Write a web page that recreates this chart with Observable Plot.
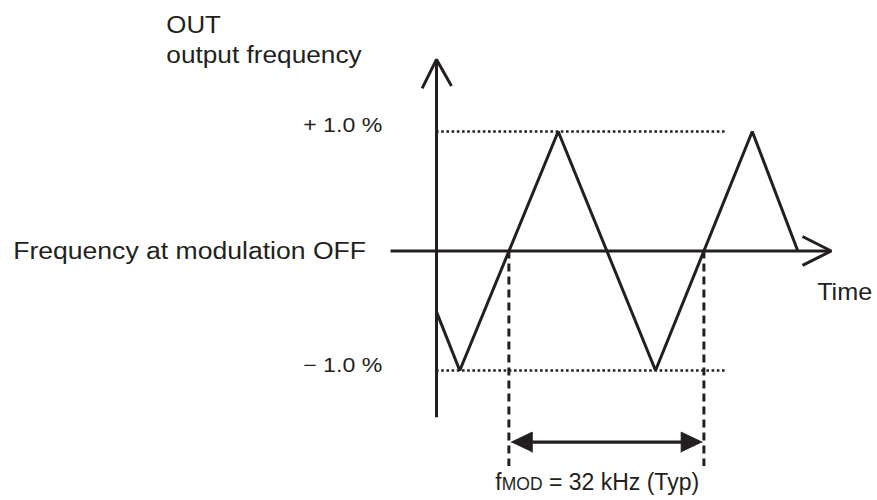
<!DOCTYPE html>
<html><head><meta charset="utf-8">
<script src="https://cdn.jsdelivr.net/npm/d3@7"></script>
<script src="https://cdn.jsdelivr.net/npm/@observablehq/plot@0.6"></script>
<style>body{margin:0;background:#fff} svg{display:block;font-family:"Liberation Sans",Arial,sans-serif}</style>
</head><body><div id="chart"></div>
<script>
// time in µs (fMOD = 32 kHz -> period 31.25 µs), value in % deviation
const waveT = [0, 3.73, 19.5, 35.1, 50.6, 57.9];
const waveV = [-0.51, -1, 1, -1, 1, 0];
const levels = [1, -1];
const levelLabels = ["+ 1.0 %", "\u2212 1.0 %"];
const levelEnd = 46.5;
const crossings = [11.6, 42.85];
const dashBottom = -1.803;
const spanV = -1.6;
const spanTips = [11.97, 42.58];
const spanLabel = "fMOD = 32 kHz (Typ)";
const yAxisRange = [-1.391, 1.603];
const xAxisRange = [-7.37, 63.25];
const titleLines = ["OUT", "output frequency"];
const offLabel = "Frequency at modulation OFF";
const timeLabel = "Time";

const INK = "#231f20";
const wave = waveT.map((t, i) => ({t, v: waveV[i]}));

// arrow heads
const yHead = [{t:-2.3, v:yAxisRange[1]-0.243},{t:0, v:yAxisRange[1]},{t:2.4, v:yAxisRange[1]-0.223}];
const xHead = [{t:xAxisRange[1]-4.6, v:0.121},{t:xAxisRange[1], v:0},{t:xAxisRange[1]-4.6, v:-0.121}];
const hl = 3.37, hw = 0.084;
const spanHeads = [
  {id:"L", t:spanTips[0], v:spanV},{id:"L", t:spanTips[0]+hl, v:spanV+hw},{id:"L", t:spanTips[0]+hl, v:spanV-hw},
  {id:"R", t:spanTips[1], v:spanV},{id:"R", t:spanTips[1]-hl, v:spanV+hw},{id:"R", t:spanTips[1]-hl, v:spanV-hw}
];

const texts = [
  {t:-43.3, v:1.826, s:titleLines[0], a:"start", f:23.5, k:1.1},
  {t:-43.3, v:1.572, s:titleLines[1], a:"start", f:23, k:1.14},
  {t:-8.70, v:0.994, s:levelLabels[0], a:"end", f:20, k:1.155},
  {t:-8.70, v:-1.014, s:levelLabels[1], a:"end", f:20, k:1.155},
  {t:-67.84, v:-0.065, s:offLabel, a:"start", f:23, k:1.155},
  {t:61.0, v:-0.414, s:timeLabel, a:"start", f:24, k:1.05},
  {t:25.75, v:-2.004, s:spanLabel, a:"middle", f:23, k:1}
];
const stretch = new Map(texts.map(d => [d.s, d.k]));

const svg = Plot.plot({
  width: 877, height: 500,
  marginLeft: 0, marginRight: 0, marginTop: 0, marginBottom: 0,
  x: {domain: [-69.87, 70.67], axis: null},
  y: {domain: [-2.088, 2.096], axis: null},
  style: {color: INK, background: "#fff"},
  marks: [
    Plot.ruleY(levels, {y: d => d, x1: 0, x2: levelEnd, stroke: INK, strokeWidth: 2.6, strokeDasharray: "2.6,2.6"}),
    Plot.ruleX(crossings, {x: d => d, y1: 0, y2: dashBottom, stroke: INK, strokeWidth: 3, strokeDasharray: "8,5"}),
    Plot.line([{t:0, v:yAxisRange[0]},{t:0, v:yAxisRange[1]}], {x:"t", y:"v", stroke: INK, strokeWidth: 3, strokeLinecap:"butt"}),
    Plot.line(yHead, {x:"t", y:"v", stroke: INK, strokeWidth: 3, strokeLinecap:"butt", strokeLinejoin:"miter"}),
    Plot.line([{t:xAxisRange[0], v:0},{t:xAxisRange[1], v:0}], {x:"t", y:"v", stroke: INK, strokeWidth: 3, strokeLinecap:"butt"}),
    Plot.line(xHead, {x:"t", y:"v", stroke: INK, strokeWidth: 3, strokeLinecap:"butt", strokeLinejoin:"miter"}),
    Plot.line(wave, {x:"t", y:"v", stroke: INK, strokeWidth: 3, strokeLinejoin:"miter", strokeLinecap:"butt"}),
    Plot.line([{t:spanTips[0]+hl-0.5, v:spanV},{t:spanTips[1]-hl+0.5, v:spanV}], {x:"t", y:"v", stroke: INK, strokeWidth: 3.2, strokeLinecap:"butt"}),
    Plot.line(spanHeads, {x:"t", y:"v", z:"id", stroke: INK, fill: INK, strokeWidth: 1, strokeLinejoin:"miter"}),
    ...texts.map(d => Plot.text([d], {x:"t", y:"v", text:"s", textAnchor: d.a, lineAnchor:"bottom", fontSize: d.f, fill: INK}))
  ]
});
document.getElementById("chart").append(svg);

d3.select(svg).selectAll("text").each(function(){
  const k = stretch.get(this.textContent) ?? 1;
  if (this.textContent === spanLabel) {
    const s = d3.select(this);
    s.text(null);
    s.append("tspan").text("f");
    s.append("tspan").attr("font-size", 17.5).text("MOD");
    s.append("tspan").text(" = 32 kHz (Typ)");
  }
  const w = this.getComputedTextLength();
  if (w > 0 && k !== 1) {
    this.setAttribute("textLength", (w * k).toFixed(1));
    this.setAttribute("lengthAdjust", "spacingAndGlyphs");
  }
});
</script>
</body></html>
